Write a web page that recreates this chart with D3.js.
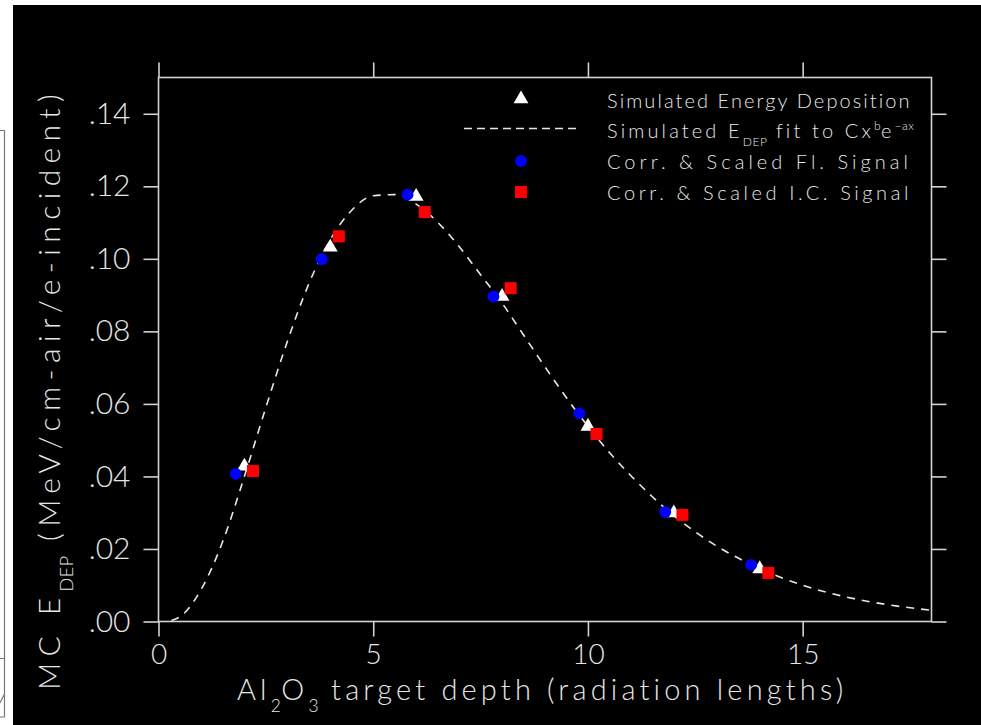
<!DOCTYPE html>
<html><head><meta charset="utf-8">
<script src="https://cdn.jsdelivr.net/npm/d3@7"></script>
<style>html,body{margin:0;padding:0;background:#fff;overflow:hidden}</style>
</head><body>
<svg id="c" width="981" height="725"></svg>
<script>
// ---- data ----
const xTickValues = [0, 5, 10, 15];
const xTickLabels = ["0", "5", "10", "15"];
const yTickValues = [0, 0.02, 0.04, 0.06, 0.08, 0.10, 0.12, 0.14];
const yTickLabels = [".00", ".02", ".04", ".06", ".08", ".10", ".12", ".14"];

const simX = [2, 4, 6, 8, 10, 12, 14];
const simY = [0.0428, 0.1032, 0.1172, 0.0896, 0.0538, 0.0299, 0.0145];

const flX = [1.8, 3.8, 5.8, 7.8, 9.8, 11.8, 13.8];
const flY = [0.0407, 0.0999, 0.1177, 0.0896, 0.0574, 0.0302, 0.0156];

const icX = [2.2, 4.2, 6.2, 8.2, 10.2, 12.2, 14.2];
const icY = [0.0415, 0.1062, 0.1129, 0.0919, 0.0517, 0.0294, 0.0134];

const fitX = [0.3, 0.5, 1, 1.5, 2, 2.5, 3, 3.5, 4, 4.5, 5, 5.5, 6, 6.5, 7, 7.5, 8, 8.5, 9, 9.5, 10, 10.5, 11, 11.5, 12, 13, 14, 15, 16, 17, 18];
const fitY = [0.0003, 0.0013, 0.0090, 0.0222, 0.0400, 0.0590, 0.0772, 0.0931, 0.1053, 0.1134, 0.1174, 0.1177, 0.1151, 0.1101, 0.1034, 0.0956, 0.0878, 0.0790, 0.0702, 0.0617, 0.0538, 0.0466, 0.0402, 0.0344, 0.0292, 0.0208, 0.0146, 0.0100, 0.0068, 0.0046, 0.0031];

const legendLabels = ["Simulated Energy Deposition", "Simulated E|DEP| fit to Cx^b^e^−ax^", "Corr. & Scaled Fl. Signal", "Corr. & Scaled I.C. Signal"];

// ---- drawing ----
const FONT = "Lato, 'Open Sans', 'DejaVu Sans', sans-serif";
const TXT = "#e6e6e6";
const AX = "#d2d2d2";

const svg = d3.select("#c");
svg.append("rect").attr("x", 13).attr("y", 5).attr("width", 968).attr("height", 720).attr("fill", "#000");
svg.append("path").attr("d", "M0,130.5H4.5V717H0 M0,658.5H4.5 M0,703L4.5,694")
  .attr("stroke", "#777").attr("stroke-width", 1.2).attr("fill", "none");

const x = d3.scaleLinear().domain([0, 18]).range([158.5, 931.5]);
const y = d3.scaleLinear().domain([0, 0.15]).range([621.5, 77.5]);

function styleAxis(size) {
  return g => {
    g.select(".domain").remove();
    g.selectAll(".tick line").attr("stroke", AX).attr("stroke-width", 1.6);
    g.selectAll(".tick text").attr("fill", TXT).attr("font-family", FONT)
      .attr("font-weight", 300).attr("font-size", size);
  };
}

svg.append("g").attr("transform", `translate(0,${y(0)})`)
  .call(d3.axisBottom(x).tickValues(xTickValues).tickSize(15).tickPadding(8)
    .tickFormat((d, i) => xTickLabels[i])).call(styleAxis(28));
svg.append("g").attr("transform", `translate(0,${y(0.15)})`)
  .call(d3.axisTop(x).tickValues(xTickValues).tickSize(15).tickFormat("")).call(styleAxis(28));
svg.append("g").attr("transform", `translate(${x(0)},0)`)
  .call(d3.axisLeft(y).tickValues(yTickValues).tickSize(15).tickPadding(13)
    .tickFormat((d, i) => yTickLabels[i])).call(styleAxis(30));
svg.append("g").attr("transform", `translate(${x(18)},0)`)
  .call(d3.axisRight(y).tickValues(yTickValues).tickSize(15).tickFormat("")).call(styleAxis(30));

svg.append("rect").attr("x", x(0)).attr("y", y(0.15))
  .attr("width", x(18) - x(0)).attr("height", y(0) - y(0.15))
  .attr("fill", "none").attr("stroke", AX).attr("stroke-width", 1.6);

// fit curve
const line = d3.line().x(d => x(d[0])).y(d => y(d[1])).curve(d3.curveMonotoneX);
svg.append("path").datum(d3.zip(fitX, fitY)).attr("d", line)
  .attr("fill", "none").attr("stroke", "#e8e8e8").attr("stroke-width", 1.6)
  .attr("stroke-dasharray", "8,7");

// markers
const tri = d3.symbol(d3.symbolTriangle, 95);
const circ = d3.symbol(d3.symbolCircle, 110);
const sq = d3.symbol(d3.symbolSquare, 144);
svg.append("g").selectAll("path").data(d3.zip(simX, simY)).join("path")
  .attr("transform", d => `translate(${x(d[0])},${y(d[1])})`).attr("d", tri).attr("fill", "#fff");
svg.append("g").selectAll("path").data(d3.zip(flX, flY)).join("path")
  .attr("transform", d => `translate(${x(d[0])},${y(d[1])})`).attr("d", circ).attr("fill", "#0000ff");
svg.append("g").selectAll("path").data(d3.zip(icX, icY)).join("path")
  .attr("transform", d => `translate(${x(d[0])},${y(d[1])})`).attr("d", sq).attr("fill", "#ff0000");

// rich text helper: |sub| and ^sup^
function rich(sel, str, size) {
  const parts = [];
  let re = /(\|[^|]*\||\^[^^]*\^)/g, last = 0, m;
  while ((m = re.exec(str))) {
    if (m.index > last) parts.push({ t: str.slice(last, m.index), k: 0 });
    const s = m[0];
    parts.push({ t: s.slice(1, -1), k: s[0] === "|" ? 1 : -1 });
    last = m.index + s.length;
  }
  if (last < str.length) parts.push({ t: str.slice(last), k: 0 });
  let cur = 0;
  parts.forEach(p => {
    const off = p.k === 1 ? size * 0.42 : p.k === -1 ? -size * 0.42 : 0;
    const ts = sel.append("tspan").text(p.t).attr("dy", off - cur)
      .attr("font-size", p.k ? size * 0.6 : size);
    if (p.k) ts.attr("letter-spacing", 0.5).classed("small", true);
    else ts.classed("norm", true);
    cur = off;
  });
}
function fitWidth(t, w) {
  let n = 0;
  t.selectAll("tspan.norm").each(function () { n += this.textContent.length; });
  t.attr("letter-spacing", 0);
  t.selectAll("tspan.norm").attr("letter-spacing", 0);
  const bw = t.node().getBBox().width;
  t.selectAll("tspan.norm").attr("letter-spacing", (w - bw) / n);
}

// legend
const legRows = [108, 138, 169, 200];
const leg = svg.append("g");
legendLabels.forEach((s, i) => {
  const t = leg.append("text").attr("x", 607).attr("y", legRows[i])
    .attr("fill", TXT).attr("font-family", FONT).attr("font-weight", 300).attr("font-size", 20);
  rich(t, s, 20);
  fitWidth(t, i === 1 ? 307 : 305);
});
leg.append("path").attr("transform", "translate(521,99)").attr("d", tri).attr("fill", "#fff");
leg.append("line").attr("x1", 464).attr("x2", 579).attr("y1", 128.5).attr("y2", 128.5)
  .attr("stroke", "#e8e8e8").attr("stroke-width", 1.6).attr("stroke-dasharray", "8,5");
leg.append("path").attr("transform", "translate(521,161)").attr("d", circ).attr("fill", "#0000ff");
leg.append("path").attr("transform", "translate(521,192)").attr("d", sq).attr("fill", "#ff0000");

// axis titles
const xt = svg.append("text").attr("x", 237).attr("y", 699.5)
  .attr("fill", TXT).attr("font-family", FONT).attr("font-weight", 300).attr("font-size", 29);
rich(xt, "Al|2|O|3| target depth (radiation lengths)", 29);
fitWidth(xt, 611);

const yt = svg.append("text").attr("transform", "translate(60,690) rotate(-90)")
  .attr("fill", TXT).attr("font-family", FONT).attr("font-weight", 300).attr("font-size", 30);
rich(yt, "MC E|DEP| (MeV/cm-air/e-incident)", 30);
fitWidth(yt, 602);
</script>
</body></html>
